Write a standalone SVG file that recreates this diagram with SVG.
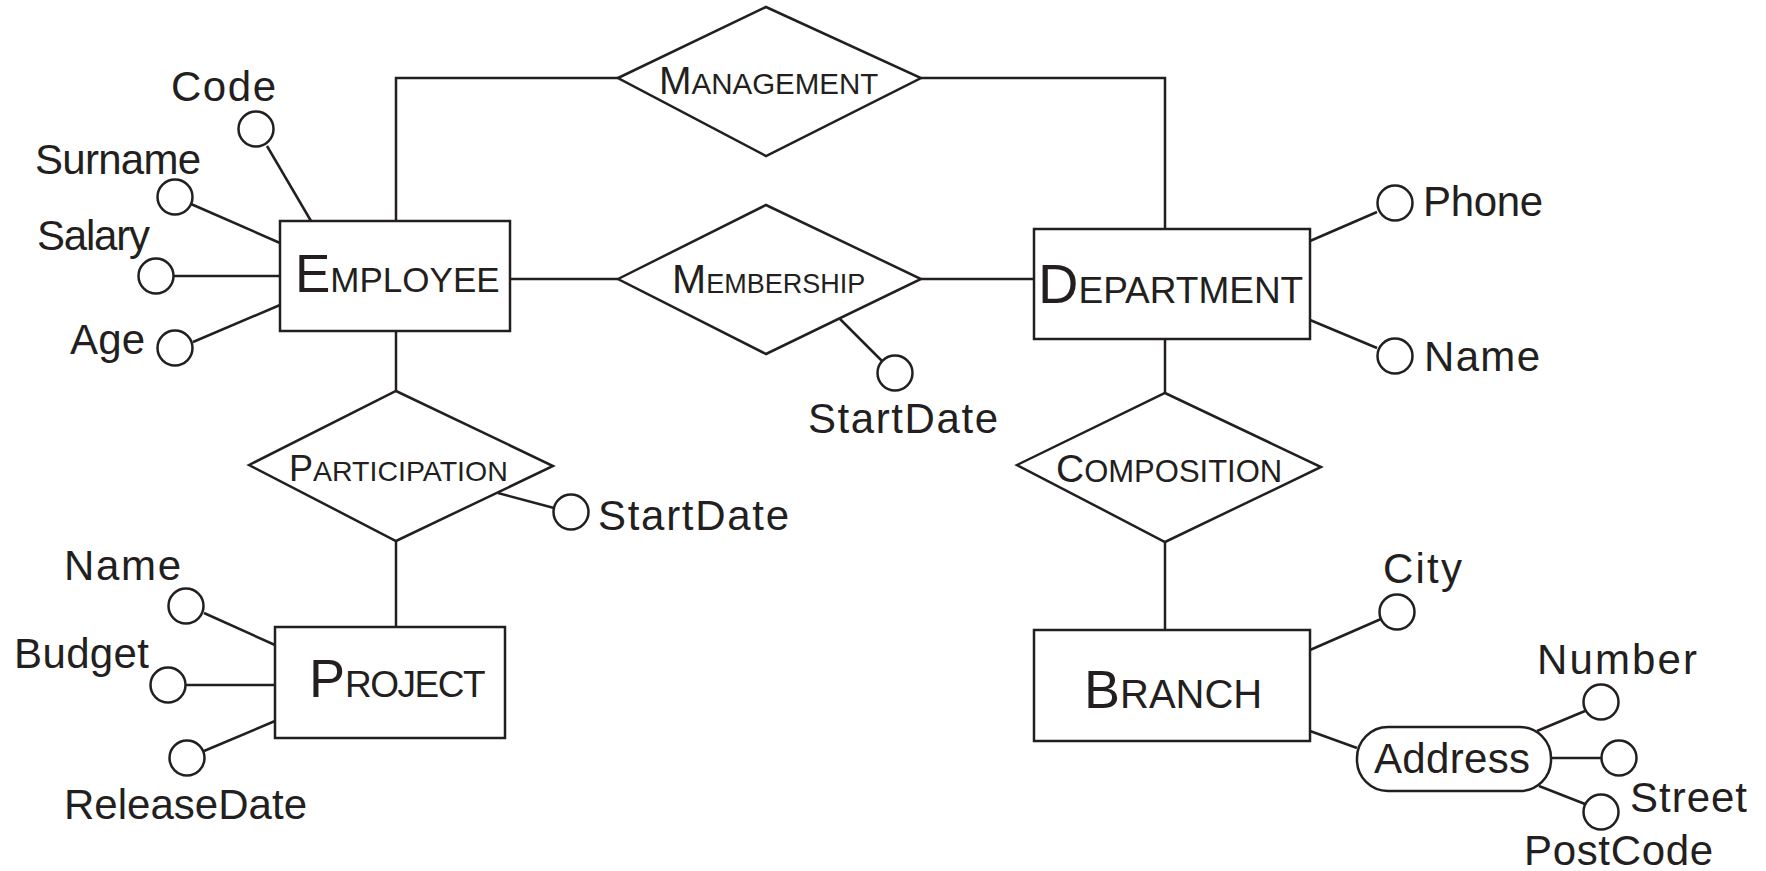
<svg xmlns="http://www.w3.org/2000/svg" width="1766" height="871" viewBox="0 0 1766 871">
<style>
.s{fill:none;stroke:#231f20;stroke-width:2.5}
.b{fill:#fff;stroke:#231f20;stroke-width:2.5}
text{font-family:"Liberation Sans",Arial,sans-serif;fill:#231f20}
.a{font-size:42px}
</style>
<rect width="1766" height="871" fill="#fff"/>
<g id="connectors" class="s">
<polyline points="396,221 396,78 618,78"/>
<polyline points="921,78 1165,78 1165,229"/>
<line x1="510" y1="279" x2="618" y2="279"/>
<line x1="921" y1="279" x2="1034" y2="279"/>
<line x1="396" y1="331" x2="396" y2="391"/>
<line x1="396" y1="541" x2="396" y2="627"/>
<line x1="1165" y1="339" x2="1165" y2="393"/>
<line x1="1165" y1="542" x2="1165" y2="630"/>
<line x1="267" y1="146" x2="311" y2="221"/>
<line x1="191" y1="204" x2="280" y2="243"/>
<line x1="174" y1="276" x2="280" y2="276"/>
<line x1="193" y1="342" x2="280" y2="305"/>
<line x1="1377" y1="212" x2="1310" y2="241"/>
<line x1="1377" y1="348" x2="1310" y2="320"/>
<line x1="840" y1="319" x2="882" y2="361"/>
<line x1="498" y1="493" x2="554" y2="508"/>
<line x1="204" y1="613" x2="275" y2="645"/>
<line x1="186" y1="685" x2="275" y2="685"/>
<line x1="204" y1="751" x2="275" y2="721"/>
<line x1="1310" y1="650" x2="1381" y2="619"/>
<line x1="1310" y1="731" x2="1357" y2="748"/>
<line x1="1537" y1="731" x2="1585" y2="711"/>
<line x1="1551" y1="758" x2="1602" y2="758"/>
<line x1="1539" y1="786" x2="1585" y2="804"/>
</g>
<g id="employee">
<rect class="b" x="280" y="221" width="230" height="110"/>
<text x="295" y="292"><tspan font-size="53">E</tspan><tspan font-size="35">MPLOYEE</tspan></text>
</g>
<g id="department">
<rect class="b" x="1034" y="229" width="276" height="110"/>
<text x="1038" y="303"><tspan font-size="56">D</tspan><tspan font-size="37">EPARTMENT</tspan></text>
</g>
<g id="project">
<rect class="b" x="275" y="627" width="230" height="111"/>
<text x="309" y="697"><tspan font-size="54">P</tspan><tspan font-size="37" letter-spacing="-1.5">ROJECT</tspan></text>
</g>
<g id="branch">
<rect class="b" x="1034" y="630" width="276" height="111"/>
<text x="1084" y="708"><tspan font-size="54">B</tspan><tspan font-size="40">RANCH</tspan></text>
</g>
<g id="management">
<polygon class="b" points="618,78 766,7 921,78 766,156"/>
<text x="659" y="94"><tspan font-size="39">M</tspan><tspan font-size="29.5">ANAGEMENT</tspan></text>
</g>
<g id="membership">
<polygon class="b" points="618,279 766,205 921,279 766,354"/>
<text x="672" y="293"><tspan font-size="41">M</tspan><tspan font-size="27">EMBERSHIP</tspan></text>
</g>
<g id="participation">
<polygon class="b" points="249,465 396,391 553,466 396,541"/>
<text x="289" y="481"><tspan font-size="36">P</tspan><tspan font-size="28.5">ARTICIPATION</tspan></text>
</g>
<g id="composition">
<polygon class="b" points="1017,465 1165,393 1321,467 1165,542"/>
<text x="1056" y="482"><tspan font-size="39">C</tspan><tspan font-size="31">OMPOSITION</tspan></text>
</g>
<g id="emp-code"><circle class="b" cx="256" cy="129" r="17.5"/><text class="a" x="171" y="101" textLength="105">Code</text></g>
<g id="emp-surname"><circle class="b" cx="175" cy="197" r="17.5"/><text class="a" x="35" y="174" textLength="166">Surname</text></g>
<g id="emp-salary"><circle class="b" cx="156" cy="276" r="17.5"/><text class="a" x="37" y="250" textLength="113">Salary</text></g>
<g id="emp-age"><circle class="b" cx="175" cy="348" r="17.5"/><text class="a" x="70" y="354" textLength="75">Age</text></g>
<g id="dept-phone"><circle class="b" cx="1395" cy="203" r="17.5"/><text class="a" x="1423" y="216" textLength="120">Phone</text></g>
<g id="dept-name"><circle class="b" cx="1395" cy="356" r="17.5"/><text class="a" x="1424" y="371" textLength="116">Name</text></g>
<g id="mem-startdate"><circle class="b" cx="895" cy="373" r="17.5"/><text class="a" x="808" y="433" textLength="190">StartDate</text></g>
<g id="part-startdate"><circle class="b" cx="571" cy="512" r="17.5"/><text class="a" x="598" y="530" textLength="191">StartDate</text></g>
<g id="proj-name"><circle class="b" cx="186" cy="606" r="17.5"/><text class="a" x="64" y="580" textLength="117">Name</text></g>
<g id="proj-budget"><circle class="b" cx="168" cy="685" r="17.5"/><text class="a" x="14" y="668" textLength="135">Budget</text></g>
<g id="proj-releasedate"><circle class="b" cx="187" cy="758" r="17.5"/><text class="a" x="64" y="819" textLength="243">ReleaseDate</text></g>
<g id="branch-city"><circle class="b" cx="1397" cy="612" r="17.5"/><text class="a" x="1383" y="583" textLength="79">City</text></g>
<g id="branch-address">
<rect class="b" x="1357" y="727" width="194" height="64" rx="31" ry="31"/>
<text class="a" x="1374" y="773" textLength="156">Address</text>
</g>
<g id="addr-number"><circle class="b" cx="1601" cy="702" r="17.5"/><text class="a" x="1537" y="674" textLength="160">Number</text></g>
<g id="addr-street"><circle class="b" cx="1619" cy="758" r="17.5"/><text class="a" x="1630" y="812" textLength="117">Street</text></g>
<g id="addr-postcode"><circle class="b" cx="1601" cy="812" r="17.5"/><text class="a" x="1524" y="865" textLength="189">PostCode</text></g>
</svg>
